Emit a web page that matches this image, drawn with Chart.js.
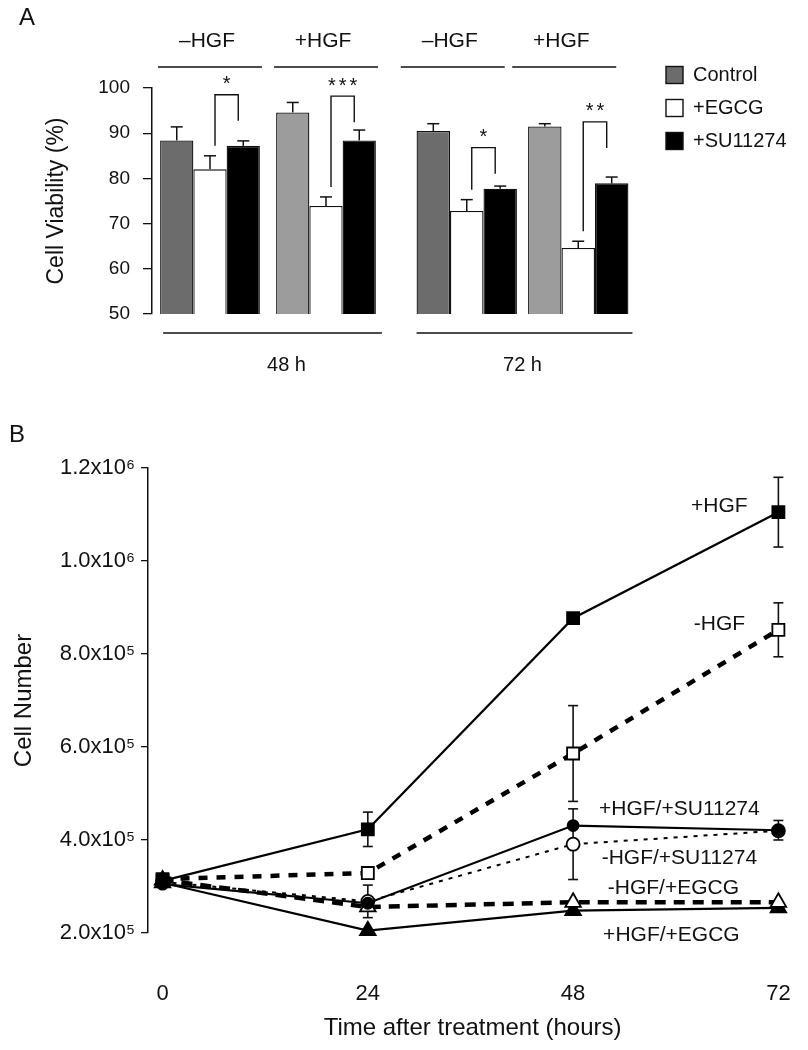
<!DOCTYPE html>
<html>
<head>
<meta charset="utf-8">
<title>Cell viability and cell number</title>
<script src="https://cdn.jsdelivr.net/npm/chart.js@4.4.1/dist/chart.umd.min.js"></script>
<style>
  body { margin: 0; background: #fff; }
  #page { position: relative; width: 808px; height: 1050px; overflow: hidden; }
  #page canvas { position: absolute; }
</style>
</head>
<body>
<div id="page">
  <canvas id="viab48" width="400" height="380" style="left:0;top:0"></canvas>
  <canvas id="viab72" width="408" height="380" style="left:400px;top:0"></canvas>
  <canvas id="growth" width="808" height="670" style="left:0;top:380px"></canvas>
</div>
<script>
// ===================== DATA =====================
// panel A: cell viability (%)
const hgfGroups = ['–HGF', '+HGF'];
const timePoints = ['48 h', '72 h'];
const treatments = ['Control', '+EGCG', '+SU11274'];
const viabilityTicks = [50, 60, 70, 80, 90, 100];

const control48 = [88.4, 94.6];
const control48Err = [3.0, 2.2];
const egcg48 = [82.0, 73.9];
const egcg48Err = [3.0, 2.0];
const su48 = [87.2, 88.4];
const su48Err = [1.1, 2.3];

const control72 = [90.5, 91.5];
const control72Err = [1.6, 0.6];
const egcg72 = [72.8, 64.6];
const egcg72Err = [2.5, 1.5];
const su72 = [77.7, 78.9];
const su72Err = [0.6, 1.4];

// EGCG vs SU11274 significance marks and bracket heights (in %)
const sig48 = ['*', '***'];
const sigTop48 = [98.5, 98.2];
const sig72 = ['*', '**'];
const sigTop72 = [86.8, 92.5];

// panel B: cell number
const hours = [0, 24, 48, 72];
const cellTicks = [200000, 400000, 600000, 800000, 1000000, 1200000];
const seriesNames = ['+HGF', '-HGF', '+HGF/+SU11274', '-HGF/+SU11274', '-HGF/+EGCG', '+HGF/+EGCG'];

const plusHgf = [312000, 423000, 877000, 1105000];
const plusHgfErr = [0, 37000, 0, 75000];
const minusHgf = [316000, 329000, 586000, 852000];
const minusHgfErr = [0, 0, 103000, 58000];
const plusHgfSu = [305000, 264000, 431000, 421000];
const plusHgfSuErr = [0, 0, 0, 21000];
const minusHgfSu = [310000, 268000, 391000, 420000];
const minusHgfSuErr = [0, 35000, 76000, 0];
const minusHgfEgcg = [314000, 256000, 266000, 266000];
const minusHgfEgcgErr = [0, 0, 0, 0];
const plusHgfEgcg = [308000, 205000, 248000, 254000];
const plusHgfEgcgErr = [0, 0, 0, 0];

// ===================== HELPERS =====================
const FONT = '"Liberation Sans", Arial, Helvetica, sans-serif';
const INK = '#111';
Chart.defaults.font.family = FONT;
Chart.defaults.color = INK;
Chart.defaults.animation = false;

function seg(ctx, pts) {
  ctx.beginPath();
  ctx.moveTo(pts[0][0], pts[0][1]);
  pts.slice(1).forEach(p => ctx.lineTo(p[0], p[1]));
  ctx.stroke();
}

function label(ctx, str, x, y, size, align) {
  ctx.font = size + 'px ' + FONT;
  ctx.textAlign = align || 'center';
  ctx.textBaseline = 'middle';
  ctx.fillText(str, x, y);
}

const SUP = '⁰¹²³⁴⁵⁶⁷⁸⁹';
function sci(v) {
  const e = Math.floor(Math.log10(v) + 1e-9);
  const m = v / Math.pow(10, e);
  return m.toFixed(1) + 'x10' + String(e).split('').map(d => SUP[d]).join('');
}

// ===================== PANEL A =====================
const viabDecor = {
  id: 'viabDecor',
  afterDatasetsDraw(chart, args, o) {
    const { ctx, scales: { x, y } } = chart;
    const ds = chart.data.datasets;
    const bars = ds.map((d, i) => chart.getDatasetMeta(i).data);
    ctx.save();
    ctx.strokeStyle = INK;
    ctx.fillStyle = INK;
    ctx.lineWidth = 1.5;

    // error bars (upper half)
    ds.forEach((d, i) => bars[i].forEach((bar, j) => {
      const top = y.getPixelForValue(d.data[j] + d.errors[j]);
      seg(ctx, [[bar.x, bar.y], [bar.x, top]]);
      seg(ctx, [[bar.x - 6, top], [bar.x + 6, top]]);
    }));

    // HGF headers
    ctx.lineWidth = 1.3;
    chart.data.labels.forEach((lab, j) => {
      const cx = x.getPixelForValue(j) + o.headerShift;
      seg(ctx, [[cx - 52, 67], [cx + 52, 67]]);
      label(ctx, lab, cx - 3, 41, 21);
    });

    // time base line
    const first = bars[0][0];
    const last = bars[2][bars[2].length - 1];
    const l = first.x - first.width / 2 + o.baseInset[0];
    const r = last.x + last.width / 2 + o.baseInset[1];
    seg(ctx, [[l, 333], [r, 333]]);
    label(ctx, o.time, (l + r) / 2 + o.timeShift, 365, 20);

    // significance brackets
    ctx.lineWidth = 1.4;
    o.sigTop.forEach((v, j) => {
      const eg = bars[1][j], su = bars[2][j];
      const top = y.getPixelForValue(v);
      const xl = eg.x + 5, xr = su.x - 5;
      const yl = y.getPixelForValue(ds[1].data[j] + ds[1].errors[j]) - 10;
      seg(ctx, [[xl, yl], [xl, top], [xr, top], [xr, top + 26]]);
      ctx.letterSpacing = '3px';
      label(ctx, o.sig[j], (xl + xr) / 2 + 1.5, top - 10, 20);
      ctx.letterSpacing = '0px';
    });

    // legend
    if (o.legend) {
      ds.forEach((d, i) => {
        const cy = 75 + i * 33;
        const c = Array.isArray(d.backgroundColor) ? d.backgroundColor[0] : d.backgroundColor;
        ctx.fillStyle = c;
        ctx.fillRect(266, cy - 8.5, 17, 17);
        ctx.strokeRect(266, cy - 8.5, 17, 17);
        ctx.fillStyle = INK;
        label(ctx, d.label, 293, cy, 20, 'left');
      });
    }

    if (o.letter) label(ctx, o.letter, 27, 18, 24);
    ctx.restore();
  }
};

function viabilityChart(id, ctrl, ctrlErr, egcg, egcgErr, su, suErr, opts) {
  const common = { borderColor: INK, borderWidth: 1.3, borderSkipped: false };
  return new Chart(document.getElementById(id), {
    type: 'bar',
    data: {
      labels: hgfGroups,
      datasets: [
        { label: treatments[0], data: ctrl, errors: ctrlErr, backgroundColor: ['#6c6c6c', '#9c9c9c'], ...common },
        { label: treatments[1], data: egcg, errors: egcgErr, backgroundColor: '#ffffff', ...common },
        { label: treatments[2], data: su, errors: suErr, backgroundColor: '#000000', ...common }
      ]
    },
    options: {
      responsive: false,
      layout: { padding: opts.padding },
      datasets: { bar: { categoryPercentage: opts.catPct, barPercentage: 1 } },
      scales: {
        x: { display: false },
        y: {
          display: opts.showAxis,
          min: 50,
          max: 100,
          afterBuildTicks: s => { s.ticks = viabilityTicks.map(v => ({ value: v })); },
          afterFit: s => { s.width = opts.showAxis ? 152 : 0; },
          border: { display: true, color: INK, width: 1.5 },
          grid: { drawOnChartArea: false, drawTicks: true, tickLength: 9, color: INK, lineWidth: 1.3 },
          ticks: { font: { size: 19 }, color: INK, padding: 13 },
          title: { display: true, text: 'Cell Viability (%)', font: { size: 23 }, color: INK, padding: { top: 43 } }
        }
      },
      plugins: {
        legend: { display: false },
        tooltip: { enabled: false },
        viabDecor: opts.decor
      }
    },
    plugins: [viabDecor]
  });
}

viabilityChart('viab48', control48, control48Err, egcg48, egcg48Err, su48, su48Err, {
  showAxis: true,
  padding: { top: 88, bottom: 66, left: 0, right: 16 },
  catPct: 0.86,
  decor: { headerShift: 0, baseInset: [3, 6], time: timePoints[0], timeShift: 14, sig: sig48, sigTop: sigTop48, legend: false, letter: 'A' }
});

viabilityChart('viab72', control72, control72Err, egcg72, egcg72Err, su72, su72Err, {
  showAxis: false,
  padding: { top: 88, bottom: 66, left: 11, right: 174 },
  catPct: 0.9,
  decor: { headerShift: -14, baseInset: [0, 4], time: timePoints[1], timeShift: -2, sig: sig72, sigTop: sigTop72, legend: true, letter: null }
});

// ===================== PANEL B =====================
const seriesValues = [plusHgf, minusHgf, plusHgfSu, minusHgfSu, minusHgfEgcg, plusHgfEgcg];
const seriesErrors = [plusHgfErr, minusHgfErr, plusHgfSuErr, minusHgfSuErr, minusHgfEgcgErr, plusHgfEgcgErr];
const seriesStyles = [
  { pointStyle: 'rect', pointRadius: 8.5, pointBackgroundColor: '#000', borderWidth: 2.2, borderDash: [] },
  { pointStyle: 'rect', pointRadius: 8.5, pointBackgroundColor: '#fff', borderWidth: 4.5, borderDash: [9, 9] },
  { pointStyle: 'circle', pointRadius: 5.5, pointBackgroundColor: '#000', borderWidth: 2.2, borderDash: [] },
  { pointStyle: 'circle', pointRadius: 6.5, pointBackgroundColor: '#fff', borderWidth: 2, borderDash: [4, 6] },
  { pointStyle: 'triangle', pointRadius: 9, pointBackgroundColor: '#fff', borderWidth: 4.5, borderDash: [11, 8] },
  { pointStyle: 'triangle', pointRadius: 9, pointBackgroundColor: '#000', borderWidth: 2.2, borderDash: [] }
];
// label position relative to the 72 h point
const labelOffsets = [[-59, -6], [-59, -6], [-99, -21], [-99, 28], [-105, -14], [-107, 27]];

const growthDecor = {
  id: 'growthDecor',
  beforeDatasetsDraw(chart) {
    const { ctx, scales: { y } } = chart;
    ctx.save();
    ctx.strokeStyle = INK;
    ctx.lineWidth = 1.6;
    chart.data.datasets.forEach((d, i) => {
      chart.getDatasetMeta(i).data.forEach((pt, j) => {
        const e = d.errors[j];
        if (!e) return;
        const v = d.data[j].y;
        const hi = y.getPixelForValue(v + e), lo = y.getPixelForValue(v - e);
        seg(ctx, [[pt.x, hi], [pt.x, lo]]);
        seg(ctx, [[pt.x - 5, hi], [pt.x + 5, hi]]);
        seg(ctx, [[pt.x - 5, lo], [pt.x + 5, lo]]);
      });
    });
    ctx.restore();
  },
  afterDatasetsDraw(chart) {
    const { ctx } = chart;
    ctx.save();
    ctx.fillStyle = INK;
    chart.data.datasets.forEach((d, i) => {
      const pts = chart.getDatasetMeta(i).data;
      const end = pts[pts.length - 1];
      label(ctx, d.label, end.x + labelOffsets[i][0], end.y + labelOffsets[i][1], 21);
    });
    label(ctx, 'B', 17, 55, 24);
    ctx.restore();
  }
};

new Chart(document.getElementById('growth'), {
  type: 'line',
  data: {
    datasets: seriesNames.map((name, i) => ({
      label: name,
      data: hours.map((h, j) => ({ x: h, y: seriesValues[i][j] })),
      errors: seriesErrors[i],
      borderColor: '#000',
      pointBorderColor: '#000',
      pointBorderWidth: 1.8,
      tension: 0,
      clip: false,
      ...seriesStyles[i]
    }))
  },
  options: {
    responsive: false,
    layout: { padding: { top: 88, right: 5, bottom: 0, left: 0 } },
    scales: {
      x: {
        type: 'linear',
        min: -1.7,
        max: 74.2,
        afterBuildTicks: s => { s.ticks = hours.map(v => ({ value: v })); },
        afterFit: s => { s.height = 117; s.paddingLeft = 0; s.paddingRight = 0; },
        border: { display: false },
        // invisible tick marks push the labels down without widening the axis
        grid: { display: true, drawOnChartArea: false, drawTicks: true, tickLength: 45, color: 'rgba(0,0,0,0)' },
        ticks: { font: { size: 22 }, color: INK, padding: 3 },
        title: { display: true, text: 'Time after treatment (hours)', font: { size: 24 }, color: INK, padding: { top: 0, bottom: 7 } }
      },
      y: {
        min: 200000,
        max: 1200000,
        afterBuildTicks: s => { s.ticks = cellTicks.map(v => ({ value: v })); },
        afterFit: s => { s.width = 148; },
        border: { display: true, color: INK, width: 1.5 },
        grid: { drawOnChartArea: false, drawTicks: true, tickLength: 7, color: INK, lineWidth: 1.3 },
        ticks: { font: { size: 22 }, color: INK, padding: 6, callback: v => sci(v) },
        title: { display: true, text: 'Cell Number', font: { size: 24 }, color: INK, padding: { top: 10 } }
      }
    },
    plugins: {
      legend: { display: false },
      tooltip: { enabled: false }
    }
  },
  plugins: [growthDecor]
});
</script>
</body>
</html>
